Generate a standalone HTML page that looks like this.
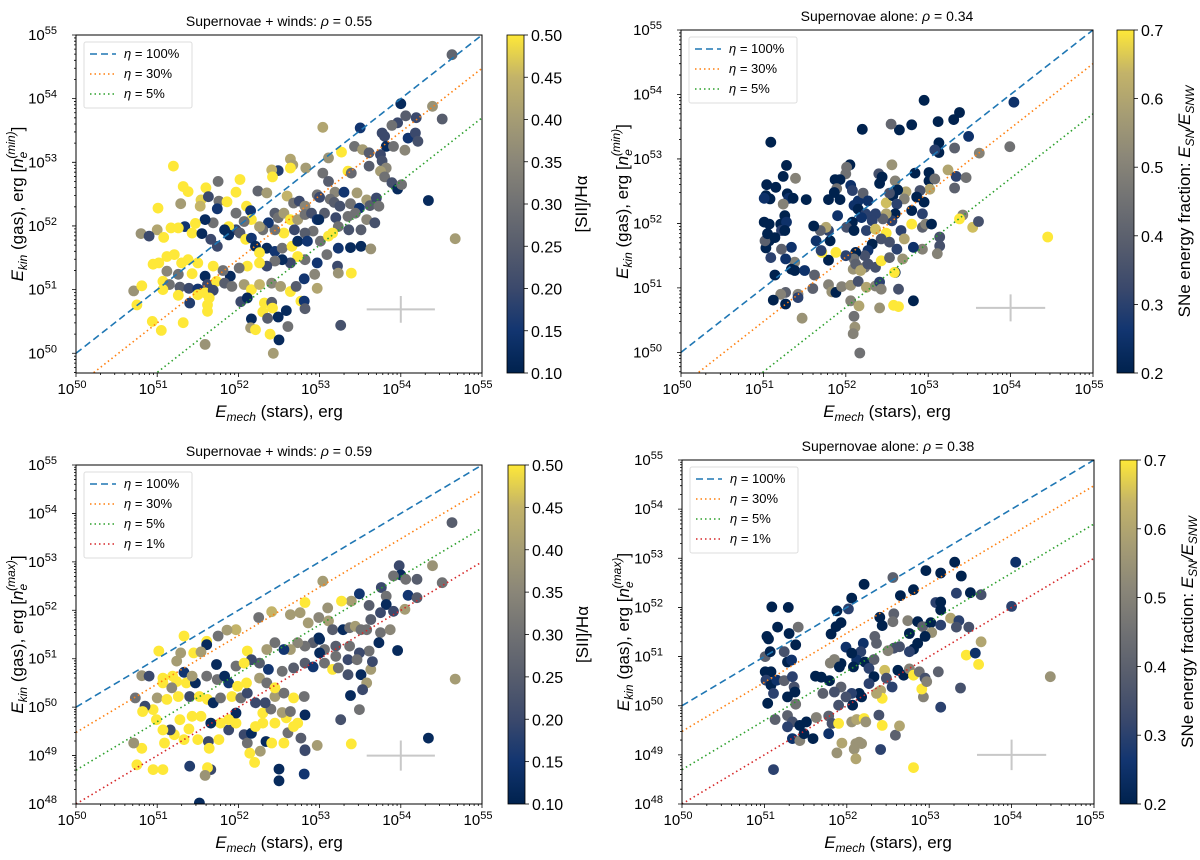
<!DOCTYPE html>
<html><head><meta charset="utf-8"><style>
html,body{margin:0;padding:0;background:#fff}
svg{display:block;font-family:"Liberation Sans","DejaVu Sans",sans-serif}
</style></head><body>
<svg id="fig" width="1200" height="860" viewBox="0 0 1200 860" xmlns="http://www.w3.org/2000/svg">
<defs>
<linearGradient id="cividis" x1="0" y1="1" x2="0" y2="0">
<stop offset="0" stop-color="#00224e"/><stop offset="0.125" stop-color="#123570"/><stop offset="0.25" stop-color="#3b496c"/><stop offset="0.375" stop-color="#575d6d"/><stop offset="0.5" stop-color="#707173"/><stop offset="0.625" stop-color="#8a8678"/><stop offset="0.75" stop-color="#a59c74"/><stop offset="0.875" stop-color="#c3b369"/><stop offset="1" stop-color="#fee838"/>
</linearGradient>
</defs>
</svg>
<script>
// ---- data: [log10 Emech, log10 Ekin, colour value] ----
const tlX=[54.63,54.0,54.39,54.51,54.19,54.06,53.96,53.89,53.04,53.50,53.77,53.80,54.09,54.18,54.21,53.82,53.91,54.05,53.43,53.53,53.61,53.75,53.77,53.27,53.11,52.64,52.67,52.83,52.49,52.41,52.42,52.64,53.04,53.11,53.35,53.39,53.61,53.82,53.75,53.80,53.89,53.96,54.01,51.20,52.02,51.75,51.32,51.38,51.60,51.54,51.53,51.63,51.76,51.86,51.97,52.24,51.01,51.29,51.74,52.10,52.15,51.97,52.35,52.60,52.68,52.75,52.82,52.97,53.00,53.19,53.30,53.46,53.13,53.18,53.25,53.38,53.58,53.62,53.49,53.70,53.73,52.45,52.49,52.56,52.64,52.73,52.82,52.90,52.97,53.06,53.20,53.35,53.44,53.58,53.68,53.51,53.36,53.23,53.16,52.99,52.92,52.82,52.69,52.56,52.45,52.37,52.30,52.26,52.16,52.07,51.97,51.88,51.83,51.69,51.59,51.47,51.34,51.26,51.17,51.0,50.80,50.90,51.08,51.43,51.55,51.66,51.74,51.88,52.02,52.09,52.16,52.21,52.35,52.26,52.45,52.54,52.66,52.73,52.85,53.01,53.11,53.23,53.38,53.51,53.63,53.09,52.97,52.82,52.73,52.64,52.54,52.45,52.35,52.26,52.11,52.01,51.90,51.81,51.69,51.59,51.50,51.43,51.38,51.30,51.21,51.12,51.02,50.95,51.12,51.26,51.07,51.15,51.28,51.39,51.50,51.62,51.73,51.83,51.92,52.07,52.16,52.26,52.41,52.52,52.64,52.71,52.81,52.94,52.97,53.22,53.23,53.39,50.71,50.81,51.07,51.26,51.50,51.59,51.69,51.64,51.40,51.62,52.03,52.11,52.32,52.41,52.77,52.81,52.82,50.75,52.30,52.42,52.59,51.62,50.94,51.32,52.16,52.36,52.49,52.61,52.15,52.21,51.05,52.39,52.50,53.26,51.59,52.43,54.67,54.34];
const tlY=[54.69,53.92,53.88,53.68,53.70,53.73,53.62,53.58,53.55,53.54,53.46,53.41,53.38,53.46,53.33,53.25,53.25,53.19,53.25,53.20,53.15,53.12,53.02,53.16,53.07,53.05,52.96,52.91,52.87,52.88,52.77,52.91,52.83,52.70,52.86,52.83,52.94,52.91,52.86,52.77,52.68,52.58,52.65,52.94,52.73,52.70,52.62,52.54,52.60,52.41,52.31,52.46,52.39,52.38,52.53,52.55,52.28,52.35,52.27,52.31,52.24,52.20,52.52,52.47,52.36,52.39,52.31,52.49,52.45,52.53,52.53,52.52,52.42,52.37,52.31,52.35,52.41,52.32,52.28,52.44,52.31,52.20,52.13,52.20,52.10,52.10,52.18,52.20,52.10,52.20,52.13,52.15,52.20,52.10,52.05,51.94,51.94,51.99,51.89,52.10,51.92,51.89,51.94,51.89,51.94,52.05,51.94,51.99,52.10,52.07,51.94,51.99,51.94,52.05,52.10,52.04,51.99,51.97,51.97,51.94,51.88,51.84,51.82,51.89,51.88,51.79,51.68,51.86,51.89,51.79,51.81,51.68,51.65,51.58,51.60,51.65,51.68,51.76,51.76,51.76,51.84,51.65,51.66,51.68,51.64,51.55,51.42,51.47,51.52,51.42,51.47,51.45,51.37,51.42,51.37,51.34,51.21,51.30,51.37,51.21,51.42,51.25,51.47,51.42,51.55,51.52,51.42,51.40,51.29,51.24,51.13,51.08,51.04,51.02,51.01,51.08,51.13,51.10,51.05,51.08,51.0,51.08,51.10,51.05,50.97,51.05,51.17,51.24,51.02,51.37,51.26,51.26,50.98,51.06,51.0,50.91,50.92,50.95,50.99,50.87,50.79,50.76,50.81,50.87,50.79,50.80,50.82,50.82,50.70,50.76,50.65,50.71,50.67,50.66,50.50,50.48,50.54,50.55,50.57,50.42,50.40,50.37,50.36,50.30,50.21,50.44,50.14,50.0,51.80,52.40];
const tlC=[.27,.12,.38,.25,.2,.25,.2,.3,.42,.15,.2,.2,.15,.2,.22,.12,.3,.35,.3,.4,.25,.2,.22,.5,.38,.42,.4,.4,.17,.45,.5,.5,.3,.25,.5,.28,.25,.35,.4,.3,.22,.12,.3,.5,.5,.3,.5,.5,.5,.48,.45,.2,.3,.5,.5,.27,.5,.4,.15,.5,.15,.3,.4,.45,.3,.2,.35,.3,.2,.35,.15,.4,.3,.25,.22,.3,.4,.25,.15,.2,.3,.25,.3,.4,.5,.4,.3,.22,.15,.25,.2,.3,.3,.35,.22,.25,.22,.3,.5,.12,.3,.25,.2,.5,.3,.15,.3,.4,.5,.3,.2,.5,.12,.3,.12,.5,.15,.5,.5,.42,.38,.2,.5,.5,.12,.2,.2,.12,.25,.5,.15,.12,.12,.5,.15,.3,.5,.12,.15,.3,.5,.15,.12,.12,.38,.3,.15,.3,.5,.2,.12,.3,.2,.5,.5,.3,.12,.3,.5,.12,.5,.5,.5,.5,.5,.5,.5,.5,.35,.3,.5,.3,.25,.2,.15,.2,.5,.25,.3,.4,.5,.45,.35,.4,.5,.25,.15,.35,.42,.2,.38,.5,.38,.5,.5,.5,.5,.5,.2,.5,.17,.5,.2,.12,.5,.25,.5,.15,.25,.5,.5,.5,.12,.5,.5,.5,.12,.25,.12,.3,.4,.5,.5,.5,.12,.22,.38,.4,.4,.12];

const blX=[54.63,53.98,54.0,54.06,53.91,54.20,54.39,54.51,53.04,53.49,53.76,53.82,54.09,54.20,53.82,53.91,54.05,53.39,53.27,53.61,53.75,53.10,52.82,52.41,52.25,52.64,52.76,52.86,52.99,53.11,53.16,53.29,53.37,53.44,53.51,53.63,53.75,53.87,53.58,53.73,53.96,53.61,53.49,53.37,53.20,53.06,52.99,52.92,52.82,52.73,52.64,52.56,52.45,52.35,51.97,51.86,51.75,51.61,51.33,51.02,51.29,51.45,51.61,51.54,52.11,52.26,52.37,52.54,52.68,52.82,52.92,53.06,53.16,53.23,53.35,53.51,53.63,53.58,53.53,53.38,53.49,53.26,54.34,54.67,53.39,52.97,52.82,52.81,52.50,52.50,51.52,51.40,51.66,51.62,51.59,50.95,51.07,50.75,50.81,50.71,51.09,51.21,51.33,51.39,51.50,51.63,51.64,51.76,51.88,51.97,52.07,52.11,52.16,52.14,52.20,52.27,52.34,52.41,52.56,52.61,52.68,52.77,52.82,52.73,52.59,52.45,52.30,52.21,52.30,52.40,52.54,52.64,52.82,51.97,51.88,51.78,51.66,51.54,51.43,51.28,51.16,51.07,50.99,50.95,50.85,50.82,50.73,51.0,51.12,51.26,51.40,51.52,51.62,51.69,51.78,51.92,52.03,52.11,52.21,52.33,52.45,52.56,52.68,52.81,51.36,51.24,51.07,51.18,51.47,51.61,51.74,51.88,51.99,52.10,52.26,52.35,52.45,51.33,51.43,50.81,50.90,51.07,51.19,51.24,51.73,51.83,51.97,52.16,52.07,53.00,53.00,53.20,53.35,53.46,53.65];
const blY=[53.81,52.92,52.73,52.64,52.71,52.64,52.92,52.57,52.60,52.34,52.47,52.29,52.31,52.26,52.12,51.98,52.02,52.19,52.19,52.10,51.95,52.05,52.16,51.97,51.85,51.91,51.95,51.74,51.85,51.78,51.60,51.60,51.64,51.67,51.60,51.81,51.54,51.60,51.60,51.33,51.17,51.16,51.12,51.26,51.26,51.19,51.43,51.33,51.26,51.33,51.19,51.19,51.33,51.19,51.60,51.59,51.47,51.36,51.47,51.16,51.12,51.12,51.29,51.14,51.16,50.91,50.78,50.74,50.81,50.91,50.83,50.91,50.78,50.81,50.67,50.67,50.78,50.50,50.36,50.24,49.95,49.74,49.36,50.58,49.24,49.21,49.10,48.62,48.72,48.48,48.02,48.78,48.71,48.75,48.59,48.71,48.71,48.81,49.15,49.26,49.26,49.43,49.33,49.55,49.33,49.29,49.15,49.33,49.53,49.67,49.43,49.26,49.46,49.05,48.86,49.09,49.29,49.26,49.26,49.47,49.60,49.36,49.12,49.67,49.78,49.67,49.67,49.60,49.88,49.96,49.89,49.91,49.84,49.88,49.74,49.67,49.67,49.81,49.81,49.74,49.53,49.53,49.74,49.95,50.02,49.91,50.19,50.19,50.16,50.22,50.22,50.22,50.16,50.09,50.19,50.22,50.19,50.29,50.09,50.09,50.22,50.29,50.19,50.22,50.50,50.53,50.50,50.40,50.50,50.64,50.57,50.50,50.43,50.50,50.60,50.50,50.40,50.72,50.64,50.65,50.64,50.60,50.64,50.95,50.88,50.64,50.85,50.98,50.91,51.40,51.12,51.05,50.98,50.98,50.94];
const blC=[.25,.2,.12,.3,.3,.25,.38,.3,.4,.15,.2,.3,.15,.25,.12,.2,.4,.4,.5,.25,.2,.38,.5,.45,.3,.4,.4,.4,.35,.4,.25,.12,.3,.4,.3,.25,.3,.35,.3,.12,.12,.3,.2,.3,.25,.3,.12,.25,.3,.35,.4,.15,.3,.4,.45,.4,.3,.5,.5,.5,.4,.5,.12,.4,.5,.25,.15,.3,.25,.25,.15,.3,.5,.3,.22,.12,.4,.4,.2,.12,.3,.22,.12,.4,.5,.4,.22,.15,.12,.12,.12,.17,.2,.5,.38,.5,.5,.5,.5,.38,.5,.5,.5,.5,.5,.2,.5,.5,.2,.5,.2,.3,.12,.5,.5,.4,.12,.5,.5,.3,.5,.25,.2,.5,.5,.5,.5,.5,.5,.3,.4,.3,.12,.12,.5,.5,.12,.5,.5,.5,.2,.5,.5,.5,.2,.5,.3,.4,.5,.5,.2,.5,.5,.12,.3,.5,.3,.2,.2,.2,.4,.3,.5,.3,.5,.5,.5,.35,.12,.3,.3,.15,.5,.5,.4,.3,.5,.15,.4,.38,.2,.5,.5,.4,.12,.12,.3,.2,.5,.12,.12,.3,.2,.3,.2];

const trX=[51.09,52.95,54.04,53.38,53.31,53.12,52.80,52.65,52.20,52.55,53.49,53.13,53.13,53.08,53.32,53.62,53.99,51.28,51.24,51.39,51.04,51.15,51.03,51.08,51.01,51.29,51.31,51.36,51.24,51.52,52.05,52.01,52.0,51.87,51.93,51.89,52.06,51.86,51.79,51.93,52.08,52.15,52.21,52.10,52.15,52.27,52.40,52.44,52.41,52.56,52.60,52.73,52.63,52.49,52.57,52.53,52.71,52.84,53.01,53.01,53.08,53.24,53.34,53.46,53.32,53.02,52.90,52.86,52.95,52.93,52.80,52.62,52.60,52.56,52.49,52.45,52.36,52.32,52.24,52.19,52.08,52.01,52.10,52.25,52.36,52.49,52.67,52.80,52.93,52.97,53.04,53.14,53.14,53.11,52.93,52.82,52.71,52.62,52.53,52.43,52.32,52.27,52.23,52.12,52.10,52.0,51.88,51.79,51.71,51.70,51.79,51.90,51.76,51.69,51.64,51.61,51.81,52.09,52.12,52.23,52.18,52.27,52.36,52.43,52.53,52.60,52.69,51.34,51.38,51.27,51.14,51.09,51.07,51.03,51.02,51.05,51.01,51.07,51.21,51.26,51.22,51.28,51.26,51.14,51.22,51.34,51.38,51.50,51.42,51.42,51.27,51.21,51.12,51.27,51.47,51.60,51.62,51.79,51.83,51.88,51.95,52.06,52.06,52.16,52.10,52.11,52.09,52.17,52.15,52.25,52.36,52.41,52.43,52.41,52.58,52.64,52.64,52.82,52.59,53.54,53.61,53.42,53.38,54.45];
const trY=[53.26,53.91,53.88,53.72,53.61,53.58,53.53,53.45,53.46,53.54,53.35,53.25,53.10,53.14,53.17,53.09,53.19,52.90,52.73,52.70,52.60,52.56,52.43,52.38,52.39,52.46,52.39,52.39,52.30,52.37,52.91,52.87,52.77,52.68,52.68,52.54,52.59,52.48,52.37,52.37,52.51,52.35,52.47,52.28,52.22,52.35,52.77,52.72,52.62,52.91,52.66,52.49,52.52,52.32,52.43,52.47,52.38,52.78,52.79,52.66,52.69,52.83,52.73,52.71,52.55,52.53,52.51,52.41,52.33,52.15,52.20,52.30,52.15,52.04,52.15,52.07,52.15,52.04,52.15,52.09,52.02,51.94,51.89,51.89,51.91,51.85,51.89,51.99,51.94,51.99,51.99,51.79,51.65,51.53,51.60,51.63,51.76,51.60,51.71,51.76,51.68,51.58,51.50,51.55,51.45,51.50,51.55,51.43,51.55,51.58,51.89,52.12,51.94,51.89,51.73,51.96,51.73,51.29,51.37,51.32,51.27,51.37,51.32,51.42,51.47,51.24,51.45,51.63,51.40,51.45,51.20,51.47,51.73,51.62,51.73,51.84,52.02,51.99,51.99,52.12,51.89,52.02,51.89,51.78,51.60,51.29,51.27,51.27,50.90,50.85,50.93,50.90,50.81,50.75,50.53,50.99,51.20,51.05,50.94,50.93,51.02,51.04,50.80,50.72,50.56,50.39,50.29,49.99,51.10,51.01,51.03,51.09,50.98,50.69,50.73,50.71,50.98,50.80,51.24,51.94,52.03,52.13,52.07,51.79];
const trC=[.2,.2,.25,.2,.2,.2,.2,.2,.2,.42,.25,.2,.2,.3,.4,.5,.45,.2,.2,.5,.2,.2,.2,.2,.25,.2,.25,.2,.5,.2,.2,.45,.45,.2,.2,.45,.25,.2,.2,.2,.3,.25,.4,.25,.2,.25,.35,.2,.2,.55,.5,.6,.2,.65,.2,.35,.5,.2,.2,.2,.45,.6,.3,.45,.4,.6,.35,.2,.2,.3,.2,.3,.2,.3,.6,.4,.3,.3,.3,.25,.2,.35,.2,.3,.65,.7,.3,.7,.4,.5,.2,.35,.35,.5,.5,.25,.6,.3,.35,.35,.2,.25,.35,.2,.45,.3,.7,.2,.7,.3,.3,.25,.6,.4,.25,.2,.2,.55,.4,.45,.6,.35,.35,.7,.4,.2,.55,.25,.5,.25,.2,.3,.2,.2,.4,.2,.2,.2,.2,.2,.3,.25,.2,.2,.4,.2,.2,.25,.5,.3,.4,.5,.2,.2,.55,.4,.4,.5,.55,.2,.5,.55,.5,.6,.45,.55,.5,.45,.35,.6,.5,.3,.5,.55,.7,.7,.35,.2,.7,.65,.35,.5];

const brX=[54.05,53.31,52.96,53.14,53.39,52.56,52.21,52.81,52.65,53.33,53.50,53.63,51.09,51.29,52.06,52.02,51.88,51.93,51.87,51.81,52.40,52.57,52.74,52.56,52.43,52.86,52.92,53.02,53.08,53.14,53.14,53.26,53.36,53.33,53.48,53.14,53.03,52.95,52.86,52.76,52.81,52.76,52.64,52.57,52.50,52.36,52.34,52.20,52.17,52.12,52.08,51.93,51.99,52.06,52.22,52.33,52.27,52.33,52.46,52.48,52.55,52.62,52.69,52.76,52.81,52.88,52.95,52.93,52.91,52.97,53.11,53.14,53.45,53.60,53.56,53.63,53.38,54.0,54.47,52.41,52.43,52.36,52.27,52.15,52.06,51.99,51.93,51.85,51.79,51.71,51.69,51.62,51.90,52.07,52.18,51.80,51.85,51.91,51.01,51.07,51.05,51.03,51.16,51.30,51.41,51.38,51.24,51.28,51.33,51.01,51.08,51.02,51.08,51.15,51.24,51.34,51.36,51.28,51.37,51.11,51.04,51.38,51.28,51.34,51.43,51.51,51.13,51.28,51.34,51.43,51.48,51.59,51.63,51.78,51.78,51.82,51.90,51.94,51.88,52.06,52.12,52.11,52.15,52.18,52.09,52.11,52.21,52.23,52.39,52.43,52.59,52.64,52.41,52.81,51.11];
const brY=[52.92,52.92,52.75,52.70,52.64,52.61,52.47,52.36,52.24,52.29,52.30,52.26,52.01,52.0,52.19,51.97,51.93,51.69,51.61,51.46,51.80,51.87,51.73,51.71,51.63,51.71,51.61,51.69,52.10,52.11,51.95,51.78,51.73,51.60,51.60,51.64,51.49,51.41,51.27,51.47,51.15,51.10,51.20,51.17,51.12,51.27,51.41,51.27,51.10,50.93,50.79,50.86,51.19,51.07,50.89,50.94,50.76,50.59,50.72,50.56,50.38,50.72,50.62,50.75,50.62,50.69,50.56,50.18,50.34,50.49,50.69,49.97,51.03,50.84,51.07,51.30,50.36,52.02,50.59,50.31,50.15,50.25,50.45,50.25,50.25,50.18,50.38,50.28,50.51,50.25,50.58,50.60,50.01,50.01,50.18,50.87,50.94,50.79,51.0,51.10,51.36,51.41,51.60,51.47,51.60,51.24,51.10,50.89,50.93,50.69,50.69,50.52,50.42,50.52,50.51,50.59,50.38,50.18,50.28,50.25,50.05,50.03,49.80,49.67,49.60,49.67,49.72,49.57,49.33,49.29,49.43,49.33,49.76,49.43,49.79,49.64,49.64,49.24,49.04,49.67,49.72,49.23,49.26,49.23,49.12,48.92,49.74,49.67,49.81,49.60,49.40,49.59,49.11,48.74,48.70];
const brC=[.25,.2,.2,.2,.2,.4,.2,.2,.2,.3,.2,.35,.2,.2,.2,.3,.2,.2,.2,.2,.2,.4,.5,.45,.2,.2,.4,.2,.3,.2,.2,.6,.3,.35,.35,.3,.55,.2,.2,.2,.2,.3,.35,.35,.5,.4,.4,.25,.3,.25,.2,.2,.25,.2,.2,.4,.3,.2,.65,.35,.3,.2,.2,.5,.7,.45,.35,.5,.7,.5,.4,.3,.7,.7,.25,.6,.35,.3,.55,.6,.7,.6,.3,.2,.3,.35,.4,.35,.2,.4,.2,.2,.35,.2,.2,.5,.5,.2,.4,.2,.2,.2,.2,.2,.45,.2,.35,.2,.25,.2,.2,.3,.2,.25,.4,.3,.35,.2,.2,.3,.2,.45,.4,.35,.2,.2,.4,.3,.25,.5,.2,.2,.5,.25,.4,.35,.7,.6,.55,.55,.6,.55,.55,.55,.55,.6,.7,.55,.35,.7,.4,.6,.3,.7,.3];

const xTicks=[50,51,52,53,54,55];
const etaLevels=[1,0.3,0.05,0.01];
const etaLabels=["100%","30%","5%","1%"];
const cbTicksSII=["0.10","0.15","0.20","0.25","0.30","0.35","0.40","0.45","0.50"];
const cbTicksSN=["0.2","0.3","0.4","0.5","0.6","0.7"];

const NS="http://www.w3.org/2000/svg";
const svg=document.getElementById('fig');
function mk(tag,attrs,parent){const e=document.createElementNS(NS,tag);for(const k in attrs)e.setAttribute(k,attrs[k]);(parent||svg).appendChild(e);return e;}
const stops=[[0,0,34,78],[.125,18,53,112],[.25,59,73,108],[.375,87,93,109],[.5,112,113,115],[.625,138,134,120],[.75,165,156,116],[.875,195,179,105],[1,254,232,56]];
function cmap(t){t=Math.max(0,Math.min(1,t));for(let i=1;i<stops.length;i++){if(t<=stops[i][0]){const a=stops[i-1],b=stops[i],f=(t-a[0])/(b[0]-a[0]);return `rgb(${Math.round(a[1]+f*(b[1]-a[1]))},${Math.round(a[2]+f*(b[2]-a[2]))},${Math.round(a[3]+f*(b[3]-a[3]))})`;}}return 'rgb(254,232,56)';}
const lineColors=["#1f77b4","#ff7f0e","#2ca02c","#d62728"];
const lineDash=["7,4","1.5,3","1.5,3","1.5,3"];

const panels=[
 {id:'tl',x0:76,x1:482,y0:35,y1:373,ymin:49.69,X:tlX,Y:tlY,C:tlC,cmin:0.1,cmax:0.5,cb:cbTicksSII,cbx:507,title:'Supernovae + winds: ',rho:'0.55',ne:'(min)',nEta:3,cbl:'sii',yT:[50,51,52,53,54,55]},
 {id:'tr',x0:681,x1:1093,y0:30,y1:373,ymin:49.68,X:trX,Y:trY,C:trC,cmin:0.2,cmax:0.7,cb:cbTicksSN,cbx:1117,title:'Supernovae alone: ',rho:'0.34',ne:'(min)',nEta:3,cbl:'sn',yT:[50,51,52,53,54,55]},
 {id:'bl',x0:76,x1:482,y0:465,y1:804,ymin:48,X:blX,Y:blY,C:blC,cmin:0.1,cmax:0.5,cb:cbTicksSII,cbx:508,title:'Supernovae + winds: ',rho:'0.59',ne:'(max)',nEta:4,cbl:'sii',yT:[48,49,50,51,52,53,54,55]},
 {id:'br',x0:682,x1:1094,y0:460,y1:804,ymin:48,X:brX,Y:brY,C:brC,cmin:0.2,cmax:0.7,cb:cbTicksSN,cbx:1120,title:'Supernovae alone: ',rho:'0.38',ne:'(max)',nEta:4,cbl:'sn',yT:[48,49,50,51,52,53,54,55]}
];

panels.forEach(p=>{
 const sx=v=>p.x0+(v-50)/5*(p.x1-p.x0);
 const sy=v=>p.y1-(v-p.ymin)/(55-p.ymin)*(p.y1-p.y0);
 const g=mk('g',{});
 
 
 const cp=mk('clipPath',{id:'clip-'+p.id},g);
 mk('rect',{x:p.x0,y:p.y0,width:p.x1-p.x0,height:p.y1-p.y0},cp);
 const sg=mk('g',{'clip-path':`url(#clip-${p.id})`},g);
 
 
 for(let i=0;i<p.X.length;i++){
  const c=mk('circle',{cx:sx(p.X[i]).toFixed(1),cy:sy(p.Y[i]).toFixed(1),r:5.4,fill:cmap((p.C[i]-p.cmin)/(p.cmax-p.cmin))},sg);
  
  
 }
 for(let k=0;k<p.nEta;k++){
  const off=Math.log10(etaLevels[k]);
  const l=mk('line',{x1:sx(50),y1:sy(50+off),x2:sx(55),y2:sy(55+off),stroke:lineColors[k],'stroke-width':1.6,'stroke-dasharray':lineDash[k],'clip-path':`url(#clip-${p.id})`},g);
  
  
 }
 const ey=p.ymin<49?49.0:50.69, ev=p.ymin<49?0.31:0.21;
 const cr=mk('path',{d:`M${sx(53.58)},${sy(ey)}H${sx(54.42)}M${sx(54)},${sy(ey-ev)}V${sy(ey+ev)}`,stroke:'#c8c8c8','stroke-width':2,fill:'none'},g);
 
 
 const fr=mk('rect',{x:p.x0,y:p.y0,width:p.x1-p.x0,height:p.y1-p.y0,fill:'none',stroke:'#000','stroke-width':1},g);
 
 
 let d='';
 for(let e=50;e<55;e++)for(let m=2;m<10;m++){const x=sx(e+Math.log10(m));d+=`M${x},${p.y1}v2`;}
 xTicks.forEach(e=>{d+=`M${sx(e)},${p.y1}v4`;});
 for(let e=Math.floor(p.ymin);e<55;e++)for(let m=1;m<10;m++){const v=e+Math.log10(m);if(v<p.ymin)continue;const y=sy(v);d+=m==1?`M${p.x0},${y}h-4`:`M${p.x0},${y}h-2`;}
 d+=`M${p.x0},${sy(55)}h-4`;
 mk('path',{d:d,stroke:'#000','stroke-width':0.8,fill:'none'},g);
 xTicks.forEach(e=>{
  const t=mk('text',{x:sx(e)-4,y:p.y1+21,'text-anchor':'middle','font-size':15},g);
  
  
  t.innerHTML=`10<tspan font-size="11" dy="-6">${e}</tspan>`;
 });
 p.yT.forEach(e=>{
  const t=mk('text',{x:p.x0-19,y:sy(e)+5,'text-anchor':'end','font-size':15},g);
  
  
  t.innerHTML=`10<tspan font-size="11" dy="-6">${e}</tspan>`;
 });
 const tt=mk('text',{x:(p.x0+p.x1)/2,y:p.y0-9,'text-anchor':'middle','font-size':14},g);
 
 
 tt.innerHTML=`${p.title}<tspan font-style="italic">ρ</tspan> = ${p.rho}`;
 const xl=mk('text',{x:(p.x0+p.x1)/2,y:p.y1+44,'text-anchor':'middle','font-size':17},g);
 
 
 xl.innerHTML=`<tspan font-style="italic">E</tspan><tspan font-style="italic" font-size="12" dy="4">mech</tspan><tspan dy="-4"> (stars), erg</tspan>`;
 const yl=mk('text',{x:0,y:0,'text-anchor':'middle','font-size':17,transform:`translate(${p.x0-53},${(p.y0+p.y1)/2}) rotate(-90)`},g);
 
 
 yl.innerHTML=`<tspan font-style="italic">E</tspan><tspan font-style="italic" font-size="12" dy="4">kin</tspan><tspan dy="-4"> (gas), erg  [</tspan><tspan font-style="italic">n</tspan><tspan font-style="italic" font-size="12" dy="4">e</tspan><tspan font-style="italic" font-size="12" dx="-7" dy="-12">${p.ne}</tspan><tspan dy="8">]</tspan>`;
 const lh=p.nEta*20+6;
 const lg=mk('g',{},g);
 
 
 mk('rect',{x:p.x0+8,y:p.y0+7,width:108,height:lh,fill:'#fff','fill-opacity':0.85,stroke:'#ddd',rx:2},lg);
 for(let k=0;k<p.nEta;k++){
  const yy=p.y0+19+k*20;
  const en=mk('g',{},lg);
  
  
  mk('line',{x1:p.x0+14,y1:yy,x2:p.x0+40,y2:yy,stroke:lineColors[k],'stroke-width':1.6,'stroke-dasharray':lineDash[k]},en);
  const t=mk('text',{x:p.x0+48,y:yy+4,'font-size':13},en);
  t.innerHTML=`<tspan font-style="italic">η</tspan> = ${etaLabels[k]}`;
 }
 const cg=mk('g',{},g);
 
 
 mk('rect',{x:p.cbx,y:p.y0,width:17,height:p.y1-p.y0,fill:'url(#cividis)',stroke:'#000','stroke-width':0.8},cg);
 p.cb.forEach((lab,i)=>{
  const y=p.y1-i/(p.cb.length-1)*(p.y1-p.y0);
  mk('line',{x1:p.cbx+17,y1:y,x2:p.cbx+21,y2:y,stroke:'#000','stroke-width':0.8},cg);
  const t=mk('text',{x:p.cbx+24,y:y+6,'font-size':16},cg);
  
  
  t.textContent=lab;
 });
 const cl=mk('text',{x:0,y:0,'text-anchor':'middle','font-size':17,transform:`translate(${p.cbx+(p.cbl=='sii'?80:73)},${(p.y0+p.y1)/2}) rotate(-90)`},cg);
 
 
 cl.innerHTML=p.cbl=='sii'?'[SII]/Hα':'SNe energy fraction: <tspan font-style="italic">E</tspan><tspan font-style="italic" font-size="12" dy="4">SN</tspan><tspan dy="-4" font-style="italic">/E</tspan><tspan font-style="italic" font-size="12" dy="4">SNW</tspan>';
});
</script>
</body></html>
